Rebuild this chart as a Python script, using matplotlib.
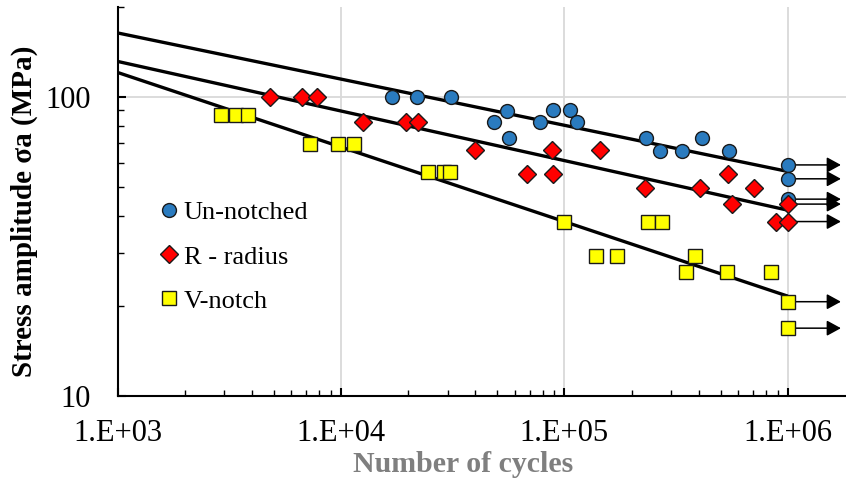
import matplotlib
matplotlib.use("Agg")
import matplotlib.pyplot as plt
from matplotlib.ticker import FuncFormatter, LogLocator, NullFormatter
import numpy as np

# ---- data: stress amplitude (MPa) vs number of cycles ----
unnotched_cycles = [1.70e4, 2.19e4, 3.10e4, 4.84e4, 5.52e4, 5.65e4, 7.78e4, 8.87e4,
                    1.06e5, 1.135e5, 2.33e5, 2.68e5, 3.35e5, 4.12e5, 5.47e5,
                    1.0e6, 1.0e6, 1.0e6]
unnotched_stress = [100, 100, 100, 82.5, 89.8, 72.9, 82.5, 90.3,
                    90.3, 82.5, 72.9, 65.8, 65.8, 72.9, 65.8,
                    59.1, 53.1, 45.4]

radius_cycles = [4.81e3, 6.7e3, 7.8e3, 1.26e4, 1.95e4, 2.22e4, 3.98e4, 6.83e4,
                 8.78e4, 8.87e4, 1.45e5, 2.30e5, 4.05e5, 5.38e5, 5.61e5,
                 7.06e5, 8.85e5, 1.0e6, 1.0e6]
radius_stress = [100, 100, 100, 82.5, 82.5, 82.5, 66.2, 55.0,
                 66.2, 55.0, 66.2, 49.6, 49.6, 55.0, 43.7,
                 49.6, 38.2, 43.7, 38.2]

vnotch_cycles = [2.9e3, 3.39e3, 3.82e3, 7.26e3, 9.72e3, 1.14e4, 2.46e4, 2.90e4,
                 3.08e4, 1.0e5, 1.38e5, 1.72e5, 2.37e5, 2.74e5, 3.50e5,
                 3.85e5, 5.33e5, 8.38e5, 1.0e6, 1.0e6]
vnotch_stress = [86.9, 86.9, 86.9, 69.5, 69.5, 69.5, 56.1, 56.1,
                 56.1, 38.2, 29.4, 29.4, 38.2, 38.2, 25.9,
                 29.4, 25.9, 25.9, 20.6, 16.8]

# run-outs (unbroken specimens) at 1e6 cycles
runout_cycles = [1.0e6] * 7
runout_stress = [59.1, 53.1, 45.4, 43.7, 38.2, 20.6, 16.8]

# power-law fits: stress at 1e3 cycles and at 1e6 cycles
fit_cycles = [1.0e3, 1.0e6]
fit_unnotched = [163.4, 56.2]
fit_radius = [131.2, 41.7]
fit_vnotch = [120.5, 21.5]

labels = ["Un-notched", "R - radius", "V-notch"]

# ---- figure ----
W, H = 846, 486
fig = plt.figure(figsize=(W / 100, H / 100), dpi=100)
x0, x1 = 117.6, 855.0
y0, y1 = 395.5, 6.7
ax = fig.add_axes([x0 / W, 1 - y0 / H, (x1 - x0) / W, (y0 - y1) / H])
ax.set_xscale("log")
ax.set_yscale("log")
ax.set_xlim(1e3, 2e6)
ax.set_ylim(10, 200)

serif = ["Liberation Serif", "DejaVu Serif"]

ax.grid(True, which="major", color="#d9d9d9", linewidth=1.3, zorder=0)
ax.set_axisbelow(True)

for sp in ["top", "right"]:
    ax.spines[sp].set_visible(False)
for sp in ["left", "bottom"]:
    ax.spines[sp].set_linewidth(1.5)
    ax.spines[sp].set_color("black")

# fitted lines
for fit in (fit_unnotched, fit_radius, fit_vnotch):
    ax.plot(fit_cycles, fit, color="black", lw=2.4, zorder=2, solid_capstyle="butt")

# run-out arrows
for n, s in zip(runout_cycles, runout_stress):
    ax.annotate("", xy=(n * 1.73, s), xytext=(n, s),
                arrowprops=dict(arrowstyle="-|>,head_length=0.86,head_width=0.47",
                                mutation_scale=10, color="black", lw=1.1,
                                shrinkA=0, shrinkB=0),
                zorder=3)

edge = "#1a1a1a"
h1, = ax.plot(unnotched_cycles, unnotched_stress, "o", ms=10, mfc="#2a7bbf",
              mec=edge, mew=1.0, ls="none", zorder=4, label=labels[0])
h2, = ax.plot(radius_cycles, radius_stress, "D", ms=9, mfc="#ff0000",
              mec=edge, mew=1.0, ls="none", zorder=4, label=labels[1])
h3, = ax.plot(vnotch_cycles, vnotch_stress, "s", ms=10, mfc="#ffff00",
              mec=edge, mew=1.0, ls="none", zorder=4, label=labels[2])

# ticks
ax.xaxis.set_major_locator(LogLocator(base=10, numticks=10))
ax.xaxis.set_minor_locator(LogLocator(base=10, subs=np.arange(2, 10), numticks=20))
ax.yaxis.set_major_locator(LogLocator(base=10, numticks=10))
ax.yaxis.set_minor_locator(LogLocator(base=10, subs=np.arange(2, 10), numticks=20))
ax.xaxis.set_minor_formatter(NullFormatter())
ax.yaxis.set_minor_formatter(NullFormatter())
ax.xaxis.set_major_formatter(FuncFormatter(lambda v, p: "1.E+%02d" % int(round(np.log10(v)))))
ax.yaxis.set_major_formatter(FuncFormatter(lambda v, p: "%d" % int(round(v))))
ax.tick_params(which="both", direction="in", color="black")
ax.tick_params(which="major", length=6, width=1.5)
ax.tick_params(which="minor", length=4.5, width=1.0)
ax.tick_params(axis="x", which="major", pad=17)
ax.tick_params(axis="y", which="major", pad=19)
for lab in ax.get_xticklabels() + ax.get_yticklabels():
    lab.set_fontfamily(serif)
    lab.set_fontsize(22)

ax.set_xlabel("Number of cycles", fontfamily=serif, fontsize=21.5,
              fontweight="bold", color="#7f7f7f")
ax.xaxis.set_label_coords((463 - x0) / (x1 - x0), -(451 - y0) / (y0 - y1))
ax.set_ylabel("Stress amplitude σa (MPa)", fontfamily=serif, fontsize=21,
              fontweight="bold", color="black")
ax.yaxis.set_label_coords(-(117.6 - 38) / (x1 - x0), (y0 - 211) / (y0 - y1))

leg = ax.legend(handles=[h1, h2, h3], loc="upper left",
                bbox_to_anchor=(156 / W, 1 - 201 / H), bbox_transform=fig.transFigure,
                frameon=False, borderpad=0, borderaxespad=0, handlelength=1.0,
                handletextpad=0.05, labelspacing=0.78,
                prop={"family": serif, "size": 19})

fig.savefig("out.png", dpi=100)
